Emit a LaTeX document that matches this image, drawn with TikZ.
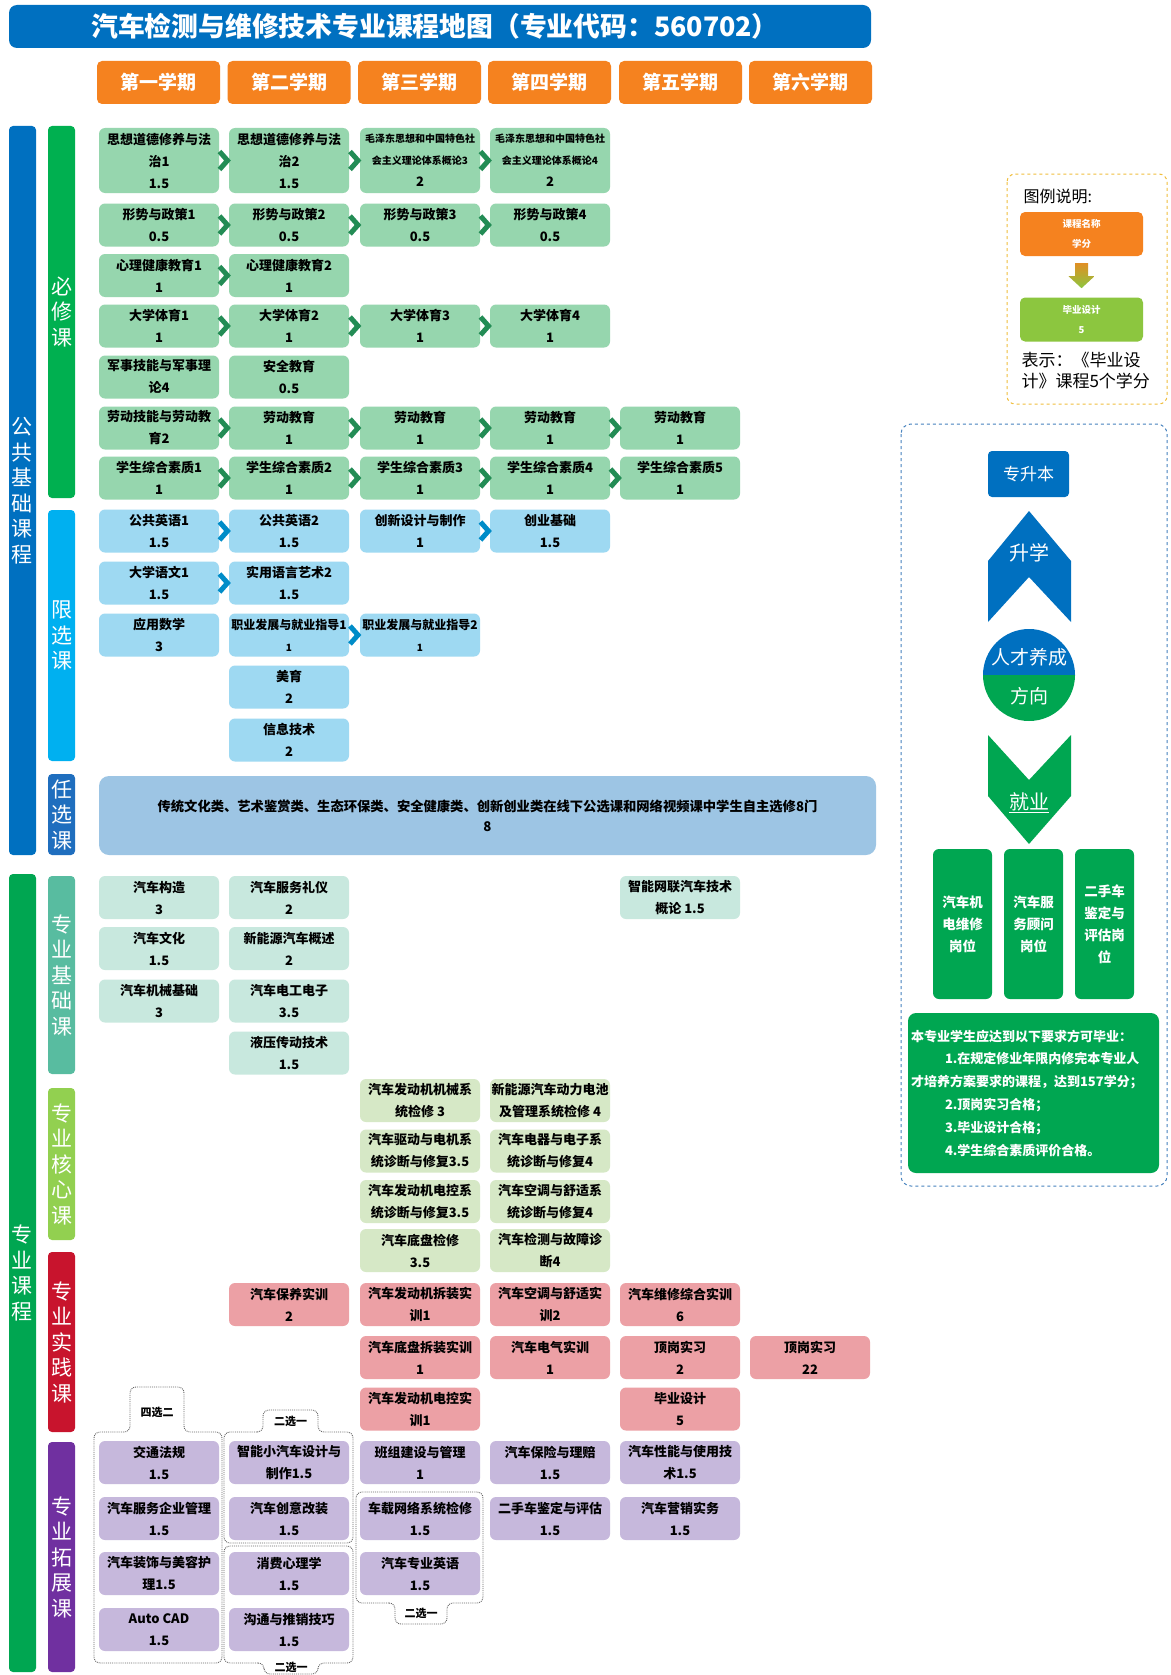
\documentclass[tikz,border=0pt]{standalone}
\usepackage{fontspec}
\setmainfont{Noto Sans CJK SC}
\usepackage{tikz}
\usetikzlibrary{calc}
\definecolor{mapBlue}{RGB}{0,112,192}
\definecolor{mapOrange}{RGB}{245,130,31}
\definecolor{mapGreen}{RGB}{0,166,81}
\definecolor{bxBar}{RGB}{0,176,80}
\definecolor{xxBar}{RGB}{0,176,240}
\definecolor{rxBar}{RGB}{31,110,190}
\definecolor{jcBar}{RGB}{88,188,160}
\definecolor{hxBar}{RGB}{146,208,80}
\definecolor{sjBar}{RGB}{200,20,45}
\definecolor{tzBar}{RGB}{112,48,160}
\definecolor{bxFill}{RGB}{150,214,174}
\definecolor{xxFill}{RGB}{158,217,242}
\definecolor{rxFill}{RGB}{157,197,228}
\definecolor{jcFill}{RGB}{200,232,222}
\definecolor{hxFill}{RGB}{214,232,198}
\definecolor{sjFill}{RGB}{236,160,165}
\definecolor{tzFill}{RGB}{198,184,220}
\definecolor{bxArrow}{RGB}{35,140,85}
\definecolor{xxArrow}{RGB}{0,140,200}
\definecolor{legYellow}{RGB}{240,190,60}
\definecolor{legGreen}{RGB}{140,198,63}
\definecolor{panelBlue}{RGB}{70,130,190}
\newcommand{\crsfont}{\fontsize{13pt}{22pt}\selectfont\bfseries}
\newcommand{\crssmall}{\fontsize{10pt}{22pt}\selectfont\bfseries}
\newcommand{\crsmid}{\fontsize{12pt}{22pt}\selectfont\bfseries}
\tikzset{
  course/.style={rounded corners=6pt, minimum width=120pt, minimum height=43pt, inner sep=1pt, align=center, font=\crsfont},
  bx/.style={course, fill=bxFill},
  xx/.style={course, fill=xxFill},
  jc/.style={course, fill=jcFill},
  hx/.style={course, fill=hxFill},
  sj/.style={course, fill=sjFill},
  tz/.style={course, fill=tzFill},
  sem/.style={fill=mapOrange, text=white, rounded corners=5pt, minimum width=123pt, minimum height=43pt, font=\fontsize{19pt}{22pt}\selectfont\bfseries},
  sidebar/.style={rounded corners=4pt, minimum width=27pt, inner sep=0pt, text=white, align=center, font=\fontsize{21pt}{25.5pt}\selectfont},
  chevline/.style={line width=5pt, line join=miter},
  grp/.style={densely dotted, gray!80!black, line width=0.9pt, rounded corners=6pt},
  grplabel/.style={font=\fontsize{11pt}{13pt}\selectfont\bfseries},
  job/.style={fill=mapGreen, text=white, rounded corners=6pt, minimum width=59pt, minimum height=150pt, align=center, font=\fontsize{13.5pt}{22pt}\selectfont\bfseries},
  legbox/.style={rounded corners=5pt, minimum width=123pt, minimum height=44pt, align=center, text=white, inner sep=1pt, font=\fontsize{9.5pt}{20pt}\selectfont\bfseries},
  bigwhite/.style={text=white, font=\fontsize{20pt}{24pt}\selectfont}
}
\newcommand{\chev}[3]{\draw[chevline, #1] ($(#2.east)!.5!(#3.west)$) +(-4.5,-9) -- +(3.5,0) -- +(-4.5,9);}

\begin{document}
\begin{tikzpicture}[x=1pt, y=-1pt]

  \useasboundingbox (0,0) rectangle (1170,1675);
  \fill[white] (0,0) rectangle (1170,1675);

  \node[fill=mapBlue, rounded corners=8pt, minimum width=862pt, minimum height=43pt, text=white, font=\fontsize{26.8pt}{30pt}\selectfont\bfseries] (title) at (440,26.5) {\hspace*{-10pt}汽车检测与维修技术专业课程地图（专业代码：560702）};

  \node[sem] (s1) at (158.5,82.5) {第一学期};
  \node[sem] (s2) at (289,82.5) {第二学期};
  \node[sem] (s3) at (419.5,82.5) {第三学期};
  \node[sem] (s4) at (549.5,82.5) {第四学期};
  \node[sem] (s5) at (680.5,82.5) {第五学期};
  \node[sem] (s6) at (810.5,82.5) {第六学期};

  \node[sidebar, fill=mapBlue, minimum height=729pt] (gg) at (22.5,490.5) {公\\共\\基\\础\\课\\程};
  \node[sidebar, fill=bxBar, minimum height=372pt] (bxl) at (61.5,312) {必\\修\\课};
  \node[sidebar, fill=xxBar, minimum height=251pt] (xxl) at (61.5,635.5) {限\\选\\课};
  \node[sidebar, fill=rxBar, minimum height=81pt] (rxl) at (61.5,814.5) {任\\选\\课};
  \node[sidebar, fill=mapGreen, minimum height=798pt] (zy) at (22.5,1273) {专\\业\\课\\程};
  \node[sidebar, fill=jcBar, minimum height=198pt] (jcl) at (61.5,975) {专\\业\\基\\础\\课};
  \node[sidebar, fill=hxBar, minimum height=152pt] (hxl) at (61.5,1164) {专\\业\\核\\心\\课};
  \node[sidebar, fill=sjBar, minimum height=180pt] (sjl) at (61.5,1342) {专\\业\\实\\践\\课};
  \node[sidebar, fill=tzBar, minimum height=230pt] (tzl) at (61.5,1557) {专\\业\\拓\\展\\课};

  % 必修课
  \node[bx, minimum height=65pt] (bx11) at (159,160.5) {思想道德修养与法\\治1\\1.5};
  \node[bx, minimum height=65pt] (bx12) at (289,160.5) {思想道德修养与法\\治2\\1.5};
  \node[bx, minimum height=65pt, font=\crssmall] (bx13) at (420,160.5) {毛泽东思想和中国特色社\\会主义理论体系概论3\\{\crsfont 2}};
  \node[bx, minimum height=65pt, font=\crssmall] (bx14) at (550,160.5) {毛泽东思想和中国特色社\\会主义理论体系概论4\\{\crsfont 2}};
  \node[bx] (bx21) at (159,225) {形势与政策1\\0.5};
  \node[bx] (bx22) at (289,225) {形势与政策2\\0.5};
  \node[bx] (bx23) at (420,225) {形势与政策3\\0.5};
  \node[bx] (bx24) at (550,225) {形势与政策4\\0.5};
  \node[bx] (bx31) at (159,275.5) {心理健康教育1\\1};
  \node[bx] (bx32) at (289,275.5) {心理健康教育2\\1};
  \node[bx] (bx41) at (159,326) {大学体育1\\1};
  \node[bx] (bx42) at (289,326) {大学体育2\\1};
  \node[bx] (bx43) at (420,326) {大学体育3\\1};
  \node[bx] (bx44) at (550,326) {大学体育4\\1};
  \node[bx] (bx51) at (159,377) {军事技能与军事理\\论4};
  \node[bx] (bx52) at (289,377) {安全教育\\0.5};
  \node[bx] (bx61) at (159,428) {劳动技能与劳动教\\育2};
  \node[bx] (bx62) at (289,428) {劳动教育\\1};
  \node[bx] (bx63) at (420,428) {劳动教育\\1};
  \node[bx] (bx64) at (550,428) {劳动教育\\1};
  \node[bx] (bx65) at (680,428) {劳动教育\\1};
  \node[bx] (bx71) at (159,478) {学生综合素质1\\1};
  \node[bx] (bx72) at (289,478) {学生综合素质2\\1};
  \node[bx] (bx73) at (420,478) {学生综合素质3\\1};
  \node[bx] (bx74) at (550,478) {学生综合素质4\\1};
  \node[bx] (bx75) at (680,478) {学生综合素质5\\1};

  \chev{bxArrow}{bx11}{bx12} \chev{bxArrow}{bx12}{bx13} \chev{bxArrow}{bx13}{bx14}
  \chev{bxArrow}{bx21}{bx22} \chev{bxArrow}{bx22}{bx23} \chev{bxArrow}{bx23}{bx24}
  \chev{bxArrow}{bx31}{bx32}
  \chev{bxArrow}{bx41}{bx42} \chev{bxArrow}{bx42}{bx43} \chev{bxArrow}{bx43}{bx44}
  \chev{bxArrow}{bx61}{bx62} \chev{bxArrow}{bx62}{bx63} \chev{bxArrow}{bx63}{bx64} \chev{bxArrow}{bx64}{bx65}
  \chev{bxArrow}{bx71}{bx72} \chev{bxArrow}{bx72}{bx73} \chev{bxArrow}{bx73}{bx74} \chev{bxArrow}{bx74}{bx75}

  % 限选课
  \node[xx] (xx11) at (159,531) {公共英语1\\1.5};
  \node[xx] (xx12) at (289,531) {公共英语2\\1.5};
  \node[xx] (xx13) at (420,531) {创新设计与制作\\1};
  \node[xx] (xx14) at (550,531) {创业基础\\1.5};
  \node[xx] (xx21) at (159,583) {大学语文1\\1.5};
  \node[xx] (xx22) at (289,583) {实用语言艺术2\\1.5};
  \node[xx] (xx31) at (159,635) {应用数学\\3};
  \node[xx, font=\crsmid] (xx32) at (289,635) {职业发展与就业指导1\\{\crssmall 1}};
  \node[xx, font=\crsmid] (xx33) at (420,635) {职业发展与就业指导2\\{\crssmall 1}};
  \node[xx] (xx42) at (289,687) {美育\\2};
  \node[xx] (xx52) at (289,740) {信息技术\\2};

  \chev{xxArrow}{xx11}{xx12} \chev{xxArrow}{xx13}{xx14}
  \chev{xxArrow}{xx21}{xx22}
  \chev{xxArrow}{xx32}{xx33}

  % 任选课
  \node[course, fill=rxFill, minimum width=777pt, minimum height=79pt, rounded corners=10pt, font=\fontsize{13.3pt}{20pt}\selectfont\bfseries] (rx) at (487.5,815.5) {传统文化类、艺术鉴赏类、生态环保类、安全健康类、创新创业类在线下公选课和网络视频课中学生自主选修8门\\8};

  % 专业基础课
  \node[jc] (jc11) at (159,897.5) {汽车构造\\3};
  \node[jc] (jc12) at (289,897.5) {汽车服务礼仪\\2};
  \node[jc] (jc15) at (680,897.5) {智能网联汽车技术\\概论 1.5};
  \node[jc] (jc21) at (159,948.5) {汽车文化\\1.5};
  \node[jc] (jc22) at (289,948.5) {新能源汽车概述\\2};
  \node[jc] (jc31) at (159,1001) {汽车机械基础\\3};
  \node[jc] (jc32) at (289,1001) {汽车电工电子\\3.5};
  \node[jc] (jc42) at (289,1053) {液压传动技术\\1.5};

  % 专业核心课
  \node[hx] (hx13) at (420,1100.5) {汽车发动机机械系\\统检修 3};
  \node[hx] (hx14) at (550,1100.5) {新能源汽车动力电池\\及管理系统检修 4};
  \node[hx] (hx23) at (420,1151) {汽车驱动与电机系\\统诊断与修复3.5};
  \node[hx] (hx24) at (550,1151) {汽车电器与电子系\\统诊断与修复4};
  \node[hx] (hx33) at (420,1201.5) {汽车发动机电控系\\统诊断与修复3.5};
  \node[hx] (hx34) at (550,1201.5) {汽车空调与舒适系\\统诊断与修复4};
  \node[hx] (hx43) at (420,1250.5) {汽车底盘检修\\3.5};
  \node[hx] (hx44) at (550,1250.5) {汽车检测与故障诊\\断4};

  % 专业实践课
  \node[sj] (sj12) at (289,1304.5) {汽车保养实训\\2};
  \node[sj] (sj13) at (420,1304.5) {汽车发动机拆装实\\训1};
  \node[sj] (sj14) at (550,1304.5) {汽车空调与舒适实\\训2};
  \node[sj] (sj15) at (680,1304.5) {汽车维修综合实训\\6};
  \node[sj] (sj23) at (420,1357.5) {汽车底盘拆装实训\\1};
  \node[sj] (sj24) at (550,1357.5) {汽车电气实训\\1};
  \node[sj] (sj25) at (680,1357.5) {顶岗实习\\2};
  \node[sj] (sj26) at (810,1357.5) {顶岗实习\\22};
  \node[sj] (sj33) at (420,1409) {汽车发动机电控实\\训1};
  \node[sj] (sj35) at (680,1409) {毕业设计\\5};

  % 专业拓展课
  \node[tz] (tz11) at (159,1462.5) {交通法规\\1.5};
  \node[tz] (tz12) at (289,1462.5) {智能小汽车设计与\\制作1.5};
  \node[tz] (tz13) at (420,1462.5) {班组建设与管理\\1};
  \node[tz] (tz14) at (550,1462.5) {汽车保险与理赔\\1.5};
  \node[tz] (tz15) at (680,1462.5) {汽车性能与使用技\\术1.5};
  \node[tz] (tz21) at (159,1518.5) {汽车服务企业管理\\1.5};
  \node[tz] (tz22) at (289,1518.5) {汽车创意改装\\1.5};
  \node[tz] (tz23) at (420,1518.5) {车载网络系统检修\\1.5};
  \node[tz] (tz24) at (550,1518.5) {二手车鉴定与评估\\1.5};
  \node[tz] (tz25) at (680,1518.5) {汽车营销实务\\1.5};
  \node[tz] (tz31) at (159,1573.5) {汽车装饰与美容护\\理1.5};
  \node[tz] (tz32) at (289,1573.5) {消费心理学\\1.5};
  \node[tz] (tz33) at (420,1573.5) {汽车专业英语\\1.5};
  \node[tz] (tz41) at (159,1629.5) {Auto CAD\\1.5};
  \node[tz] (tz42) at (289,1629.5) {沟通与推销技巧\\1.5};

  \draw[grp] (130,1432) -- (94,1432) -- (94,1663) -- (222,1663) -- (222,1432) -- (184,1432) -- (184,1387) -- (130,1387) -- cycle;
  \node[grplabel] (g1) at (157,1412) {四选二};
  \draw[grp] (263,1432) -- (224,1432) -- (224,1543) -- (353,1543) -- (353,1432) -- (318,1432) -- (318,1410) -- (263,1410) -- cycle;
  \node[grplabel] (g2) at (290.5,1421) {二选一};
  \draw[grp] (264,1663) -- (224,1663) -- (224,1546) -- (353,1546) -- (353,1663) -- (318,1663) -- (318,1674) -- (264,1674) -- cycle;
  \node[grplabel] (g3) at (291,1667) {二选一};
  \draw[grp] (395,1603) -- (356,1603) -- (356,1492) -- (483,1492) -- (483,1603) -- (447,1603) -- (447,1624) -- (395,1624) -- cycle;
  \node[grplabel] (g4) at (421,1613) {二选一};

  % legend
  \draw[dashed, legYellow, line width=1pt, rounded corners=8pt] (1007,174) rectangle (1167,404);
  \node[anchor=west, font=\fontsize{16pt}{18pt}\selectfont] (legtitle) at (1020,196) {图例说明:};
  \node[legbox, fill=mapOrange] (legA) at (1081.5,234) {课程名称\\学分};
  \node[legbox, fill=legGreen] (legB) at (1081.5,319.5) {毕业设计\\5};
  \shade[top color=mapOrange!80!legGreen, bottom color=legGreen] ($(legA.south)+(-6.5,7)$) -- ++(13,0) -- ++(0,13) -- ++(6.5,0) -- ++(-13,12) -- ++(-13,-12) -- ++(6.5,0) -- cycle;
  \node[anchor=north west, align=left, font=\fontsize{17pt}{20.5pt}\selectfont] (legtxt) at (1018,349) {表示：《毕业设\\计》课程5个学分};

  % 人才养成方向
  \draw[dashed, panelBlue, line width=1pt, rounded corners=10pt] (901,424) rectangle (1167,1186);
  \node[fill=mapBlue, text=white, rounded corners=4pt, minimum width=81pt, minimum height=46pt, font=\fontsize{17pt}{20pt}\selectfont] (zsb) at (1028.5,474) {专升本};
  \fill[mapBlue] (1029,511) -- (1071,561) -- (1071,622) -- (1029,577) -- (988,622) -- (988,561) -- cycle;
  \node[bigwhite] (sx) at (1029,553) {升学};
  \begin{scope}
    \clip (980,620) rectangle (1080,675);
    \fill[mapBlue] (1029,675) circle (46pt);
  \end{scope}
  \begin{scope}
    \clip (980,675) rectangle (1080,730);
    \fill[mapGreen] (1029,675) circle (46pt);
  \end{scope}
  \node[text=white, font=\fontsize{19pt}{22pt}\selectfont] (rc1) at (1029,657) {人才养成};
  \node[text=white, font=\fontsize{19pt}{22pt}\selectfont] (rc2) at (1029,696) {方向};
  \fill[mapGreen] (988,735) -- (1029,780) -- (1071,735) -- (1071,796) -- (1029,844) -- (988,796) -- cycle;
  \node[bigwhite] (jy) at (1029,803) {\underline{就业}};

  \node[job] (job1) at (962.5,924) {汽车机\\电维修\\岗位};
  \node[job] (job2) at (1033.5,924) {汽车服\\务顾问\\岗位};
  \node[job] (job3) at (1104.5,924) {二手车\\鉴定与\\评估岗\\位};

  \node[fill=mapGreen, text=white, rounded corners=8pt, text width=245pt, inner xsep=3pt, minimum height=160pt, align=left, font=\fontsize{13pt}{22.8pt}\selectfont\bfseries] (req) at (1033.5,1093) {本专业学生应达到以下要求方可毕业：\\\hspace*{34pt}1.在规定修业年限内修完本专业人\\才培养方案要求的课程，达到157学分；\\\hspace*{34pt}2.顶岗实习合格；\\\hspace*{34pt}3.毕业设计合格；\\\hspace*{34pt}4.学生综合素质评价合格。};

\end{tikzpicture}
\end{document}
